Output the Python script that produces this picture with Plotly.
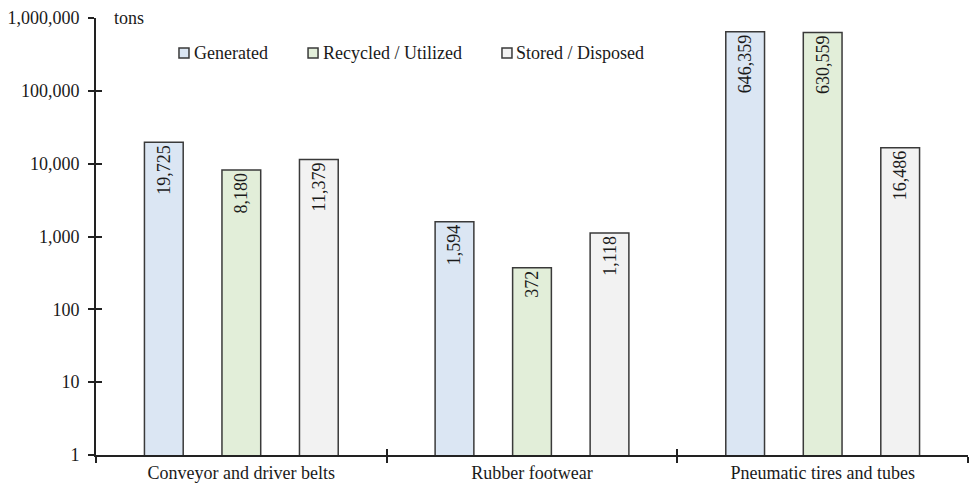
import plotly.graph_objects as go

categories = ["Conveyor and driver belts", "Rubber footwear", "Pneumatic tires and tubes"]
series_names = ["Generated", "Recycled / Utilized", "Stored / Disposed"]
generated = [19725, 1594, 646359]
recycled = [8180, 372, 630559]
stored = [11379, 1118, 16486]
y_tick_vals = [1, 10, 100, 1000, 10000, 100000, 1000000]
y_tick_text = ["1", "10", "100", "1,000", "10,000", "100,000", "1,000,000"]
unit_label = "tons"

fills = ["#dbe6f3", "#e2eed9", "#f2f2f2"]
FONT = "Liberation Serif"
FS = 18

fig = go.Figure()
for name, vals, col in zip(series_names, [generated, recycled, stored], fills):
    fig.add_trace(go.Bar(
        x=categories, y=vals, name=name,
        marker=dict(color=col, line=dict(color="#3a3a3a", width=1.5)),
        text=[f"{v:,}" for v in vals],
        textposition="inside", textangle=-90, insidetextanchor="end",
        textfont=dict(family=FONT, size=FS, color="#1a1a1a"),
        constraintext="none", showlegend=False,
    ))

# invisible helper trace for the overlay axes (inside tick marks)
fig.add_trace(go.Scatter(x=categories, y=[1, 1, 1], xaxis="x2", yaxis="y2",
                         mode="none", showlegend=False, hoverinfo="skip"))

fig.update_layout(
    width=972, height=487,
    margin=dict(l=96, r=4, t=18, b=30),
    paper_bgcolor="white", plot_bgcolor="white",
    barmode="group", bargap=0.2, bargroupgap=0.5,
    font=dict(family=FONT, size=FS, color="#1a1a1a"),
    xaxis=dict(type="category", categoryorder="array", categoryarray=categories,
               range=[-0.5, 2.5], showline=True, linecolor="#222", linewidth=2,
               ticks="outside", tickson="boundaries", ticklen=6, tickwidth=2,
               tickcolor="#222", showgrid=False, zeroline=False,
               tickfont=dict(family=FONT, size=FS, color="#1a1a1a")),
    yaxis=dict(type="log", range=[0, 6], tickvals=y_tick_vals, ticktext=y_tick_text,
               showline=True, linecolor="#222", linewidth=2, ticks="outside",
               ticklen=6, tickwidth=2, tickcolor="#222", showgrid=False,
               zeroline=False, ticklabelstandoff=5,
               tickfont=dict(family=FONT, size=FS, color="#1a1a1a")),
    xaxis2=dict(type="category", categoryorder="array", categoryarray=categories,
                range=[-0.5, 2.5], overlaying="x", anchor="y2", ticks="inside",
                tickson="boundaries", ticklen=6, tickwidth=2, tickcolor="#222",
                showticklabels=False, showgrid=False, zeroline=False, showline=False,
                side="bottom"),
    yaxis2=dict(type="log", range=[0, 6], tickvals=y_tick_vals, overlaying="y",
                anchor="x2", ticks="inside", ticklen=6, tickwidth=2, tickcolor="#222",
                showticklabels=False, showgrid=False, zeroline=False, showline=False,
                side="left"),
    showlegend=False,
)

# manual legend
sq_x = [0.1009, 0.2489, 0.4713]
txt_x = [0.1100, 0.2580, 0.4795]
leg_y = 0.92
for name, col, sx, tx in zip(series_names, fills, sq_x, txt_x):
    fig.add_shape(type="rect", xref="paper", yref="paper", xsizemode="pixel",
                  ysizemode="pixel", xanchor=sx, yanchor=leg_y, x0=-5, x1=5,
                  y0=-5, y1=5, fillcolor=col, line=dict(color="#3a3a3a", width=1.5))
    fig.add_annotation(x=tx, y=leg_y, xref="paper", yref="paper", text=name,
                       showarrow=False, xanchor="left", yanchor="middle",
                       font=dict(family=FONT, size=FS, color="#1a1a1a"))

fig.add_annotation(x=0.0185, y=1.0, xref="paper", yref="paper", text=unit_label,
                   showarrow=False, xanchor="left", yanchor="middle",
                   font=dict(family=FONT, size=FS, color="#1a1a1a"))

fig.write_html("out.html")
